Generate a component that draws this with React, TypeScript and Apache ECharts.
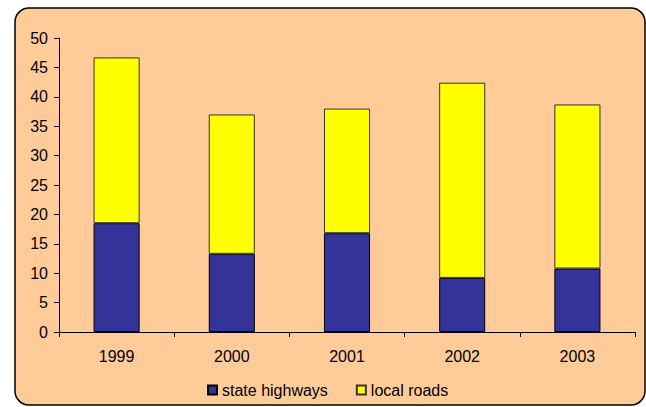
import React, { useEffect, useRef } from "react";
import * as echarts from "echarts";

const categories = ["1999", "2000", "2001", "2002", "2003"];
const stateHighways = [18.5, 13.3, 16.8, 9.2, 10.8];
const localRoads = [28.2, 23.7, 21.2, 33.2, 27.9];
const seriesNames = ["state highways", "local roads"];

export default function App() {
  const ref = useRef<HTMLDivElement>(null);
  useEffect(() => {
    const chart = echarts.init(ref.current!, undefined, { renderer: "svg" });
    const font = "'Liberation Sans', Arial, sans-serif";
    chart.setOption({
      animation: false,
      backgroundColor: "#ffffff",
      graphic: [
        {
          type: "rect",
          z: -10,
          silent: true,
          shape: { x: 15, y: 8, width: 630, height: 397, r: 14 },
          style: { fill: "#FFCC99", stroke: "#000000", lineWidth: 1.5 },
        },
      ],
      grid: { left: 59, right: 11, top: 38, bottom: 75 },
      legend: {
        bottom: 4,
        left: 202,
        itemWidth: 9,
        itemHeight: 9,
        itemGap: 28,
        icon: "rect",
        textStyle: { fontFamily: font, fontSize: 16, color: "#000" },
        data: seriesNames,
      },
      xAxis: {
        type: "category",
        data: categories,
        boundaryGap: true,
        axisLine: { lineStyle: { color: "#000", width: 1 } },
        axisTick: { show: true, length: 5, lineStyle: { color: "#000" } },
        axisLabel: { fontFamily: font, fontSize: 16, color: "#000", margin: 16 },
      },
      yAxis: {
        type: "value",
        min: 0,
        max: 50,
        interval: 5,
        axisLine: { show: true, lineStyle: { color: "#000", width: 1 } },
        axisTick: { show: true, length: 5, lineStyle: { color: "#000" } },
        axisLabel: { fontFamily: font, fontSize: 16, color: "#000", margin: 11 },
        splitLine: { show: false },
      },
      series: [
        {
          name: seriesNames[0],
          type: "bar",
          stack: "total",
          barWidth: "40%",
          data: stateHighways,
          itemStyle: { color: "#333399", borderColor: "#000", borderWidth: 1 },
        },
        {
          name: seriesNames[1],
          type: "bar",
          stack: "total",
          barWidth: "40%",
          data: localRoads,
          itemStyle: { color: "#FFFF00", borderColor: "#333", borderWidth: 1 },
        },
      ],
    });
    return () => chart.dispose();
  }, []);
  return (
    <div
      ref={ref}
      style={{ position: "fixed", left: 0, top: 0, width: 646, height: 407 }}
    />
  );
}
